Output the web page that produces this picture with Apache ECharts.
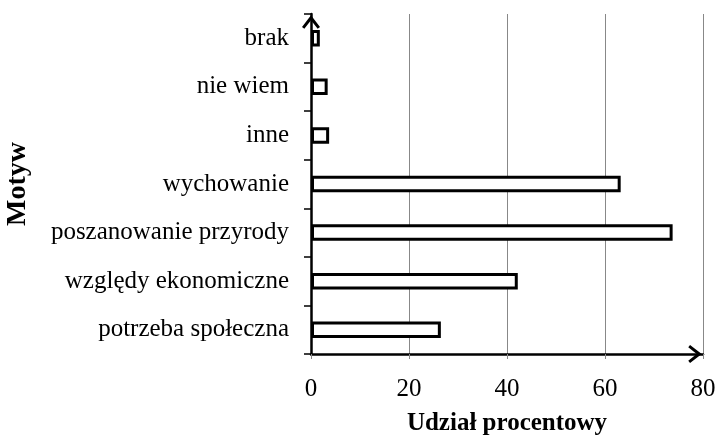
<!DOCTYPE html>
<html>
<head>
<meta charset="utf-8">
<script src="https://cdn.jsdelivr.net/npm/echarts@6/dist/echarts.min.js"></script>
<style>html,body{margin:0;padding:0;background:#fff}#c{width:718px;height:435px}</style>
</head>
<body>
<div id="c"></div>
<script>
var categories = ['potrzeba społeczna', 'względy ekonomiczne', 'poszanowanie przyrody', 'wychowanie', 'inne', 'nie wiem', 'brak'];
var values = [26.5, 42.2, 73.8, 63.2, 3.7, 3.4, 1.8];
var xTicks = [0, 20, 40, 60, 80];
var xAxisTitle = 'Udział procentowy';
var yAxisTitle = 'Motyw';

var arrowUp = 'path://M10,0 L20,13 L17.4,15 L10,5.6 L2.6,15 L0,13 Z';
var font = 'Liberation Serif';
var chart = echarts.init(document.getElementById('c'), null, {renderer: 'canvas'});
chart.setOption({
  animation: false,
  backgroundColor: '#fff',
  grid: {left: 311, right: 15, top: 14, bottom: 81, containLabel: false, outerBoundsMode: 'none'},
  xAxis: {
    type: 'value',
    min: xTicks[0], max: xTicks[xTicks.length - 1], interval: 20,
    name: xAxisTitle, nameLocation: 'middle', nameGap: 57,
    nameTextStyle: {fontFamily: font, fontSize: 25, fontWeight: 'bold', color: '#000'},
    axisLine: {show: true, lineStyle: {color: '#000', width: 2.5}, symbol: ['none', arrowUp], symbolSize: [18, 16], symbolOffset: [0, -8]},
    axisTick: {show: true, length: 5, lineStyle: {color: '#888', width: 1}},
    axisLabel: {fontFamily: font, fontSize: 25, color: '#000', margin: 23},
    splitLine: {show: true, lineStyle: {color: '#888', width: 1}}
  },
  yAxis: {
    type: 'category',
    data: categories,
    name: yAxisTitle, nameLocation: 'middle', nameGap: 279, nameRotate: 90,
    nameTextStyle: {fontFamily: font, fontSize: 28, fontWeight: 'bold', color: '#000'},
    axisLine: {show: true, lineStyle: {color: '#000', width: 2.5}, symbol: ['none', arrowUp], symbolSize: [18, 16], symbolOffset: [0, -8]},
    axisTick: {show: true, length: 7, lineStyle: {color: '#000', width: 1.5}},
    axisLabel: {fontFamily: font, fontSize: 25, color: '#000', margin: 22},
    splitLine: {show: false}
  },
  series: [{
    type: 'bar',
    data: values,
    barWidth: 16.5,
    itemStyle: {color: '#fff', borderColor: '#000', borderWidth: 3}
  }]
});
</script>
</body>
</html>
